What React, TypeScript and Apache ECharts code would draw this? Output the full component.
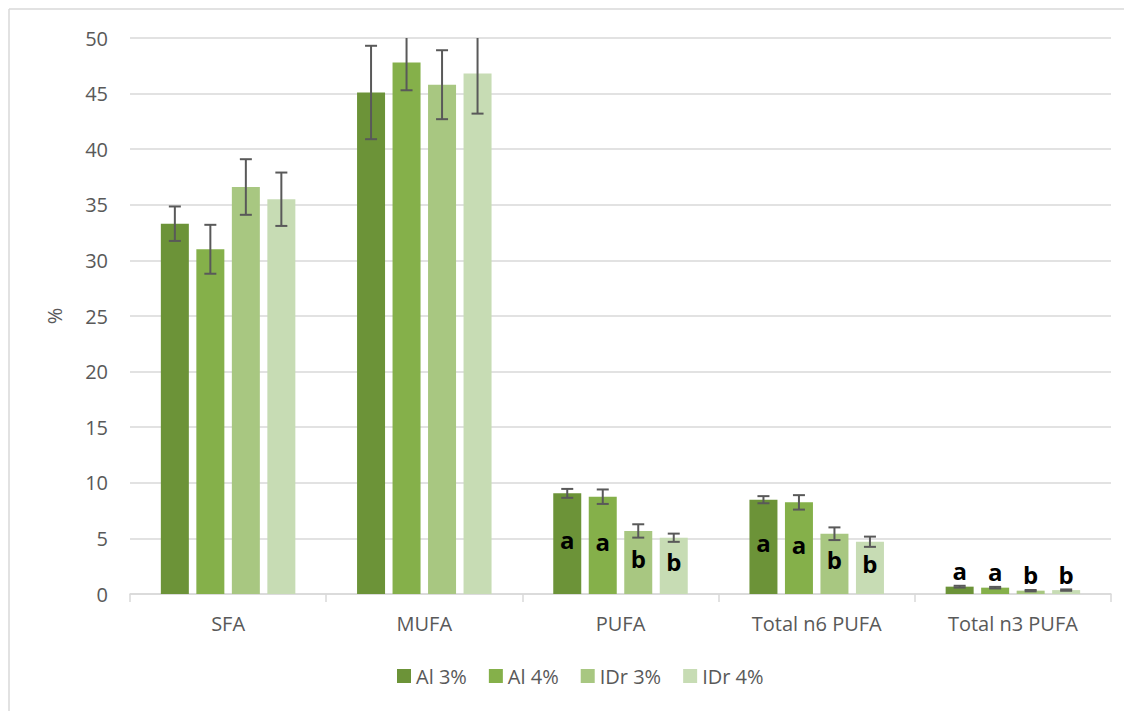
import React, { useEffect, useRef } from "react";
import * as echarts from "echarts";

const categories = ["SFA", "MUFA", "PUFA", "Total n6 PUFA", "Total n3 PUFA"];
const seriesNames = ["Al 3%", "Al 4%", "IDr 3%", "IDr 4%"];
const yTicks = { min: 0, max: 50, interval: 5 };

const al3 = [33.3, 45.1, 9.05, 8.48, 0.66];
const al3Err = [1.55, 4.2, 0.4, 0.32, 0.08];
const al4 = [31.0, 47.8, 8.75, 8.24, 0.57];
const al4Err = [2.2, 2.5, 0.65, 0.65, 0.07];
const idr3 = [36.6, 45.8, 5.67, 5.42, 0.3];
const idr3Err = [2.5, 3.1, 0.6, 0.57, 0.06];
const idr4 = [35.5, 46.8, 5.06, 4.7, 0.35];
const idr4Err = [2.4, 3.6, 0.37, 0.46, 0.06];

const al3Letters = ["", "", "a", "a", "a"];
const al4Letters = ["", "", "a", "a", "a"];
const idr3Letters = ["", "", "b", "b", "b"];
const idr4Letters = ["", "", "b", "b", "b"];
const letterPositions = ["inside", "inside", "inside", "inside", "top"];

const colors = ["#6C9338", "#85B04A", "#A8C781", "#C7DCB4"];

const values = [al3, al4, idr3, idr4];
const errors = [al3Err, al4Err, idr3Err, idr4Err];
const letters = [al3Letters, al4Letters, idr3Letters, idr4Letters];

const BAR_W = 28;
const GAP = 7.5;

export default function App() {
  const ref = useRef<HTMLDivElement>(null);
  useEffect(() => {
    if (!ref.current) return;
    const chart = echarts.init(ref.current, undefined, { renderer: "svg" });
    const groupW = 4 * BAR_W + 3 * GAP;

    const barSeries = seriesNames.map((name, i) => ({
      type: "bar",
      name,
      barWidth: BAR_W,
      barGap: (GAP / BAR_W) * 100 + "%",
      itemStyle: { color: colors[i] },
      data: values[i].map((v, j) => ({
        value: v,
        label: {
          show: letters[i][j] !== "",
          formatter: letters[i][j],
          position: letterPositions[j],
          offset: letterPositions[j] === "inside" ? [0, -4] : [0, 0],
          color: "#000",
          fontWeight: "bold",
          fontSize: 24,
          fontFamily: "Open Sans",
          distance: 4,
        },
      })),
    }));

    const errSeries = seriesNames.map((name, i) => ({
      type: "custom",
      name: name + " err",
      clip: true,
      z: 10,
      data: values[i].map((v, j) => [j, v - errors[i][j], v + errors[i][j]]),
      encode: { x: 0, y: [1, 2] },
      renderItem: (params: any, api: any) => {
        const cat = api.value(0);
        const lo = api.coord([cat, api.value(1)]);
        const hi = api.coord([cat, api.value(2)]);
        const x = lo[0] - groupW / 2 + i * (BAR_W + GAP) + BAR_W / 2;
        const style = { stroke: "#595959", lineWidth: 2 };
        const cap = 6;
        return {
          type: "group",
          children: [
            { type: "line", shape: { x1: x, y1: lo[1], x2: x, y2: hi[1] }, style },
            { type: "line", shape: { x1: x - cap, y1: lo[1], x2: x + cap, y2: lo[1] }, style },
            { type: "line", shape: { x1: x - cap, y1: hi[1], x2: x + cap, y2: hi[1] }, style },
          ],
        };
      },
    }));

    chart.setOption({
      animation: false,
      textStyle: { fontFamily: "Open Sans" },
      grid: { left: 122, right: 21, top: 30, bottom: 117 },
      legend: {
        data: seriesNames,
        bottom: 20,
        left: 384,
        icon: "rect",
        itemWidth: 14,
        itemHeight: 14,
        itemGap: 22,
        textStyle: { color: "#595959", fontSize: 20, fontFamily: "Open Sans" },
      },
      xAxis: {
        type: "category",
        data: categories,
        axisLine: { lineStyle: { color: "#d9d9d9", width: 1.5 } },
        axisTick: { show: true, length: 8, lineStyle: { color: "#d9d9d9", width: 1.5 } },
        axisLabel: { color: "#595959", fontSize: 20, margin: 19 },
      },
      yAxis: {
        type: "value",
        min: yTicks.min,
        max: yTicks.max,
        interval: yTicks.interval,
        name: "%",
        nameLocation: "middle",
        nameGap: 66,
        nameTextStyle: { color: "#595959", fontSize: 20 },
        axisLine: { show: false },
        axisTick: { show: false },
        axisLabel: { color: "#595959", fontSize: 20, margin: 22 },
        splitLine: { lineStyle: { color: "#d9d9d9", width: 1.5 } },
      },
      graphic: [
        { type: "line", shape: { x1: 1, y1: 1, x2: 1, y2: 703 }, style: { stroke: "#d9d9d9", lineWidth: 1.5 } },
        { type: "line", shape: { x1: 1, y1: 1, x2: 1124, y2: 1 }, style: { stroke: "#d9d9d9", lineWidth: 1.5 } },
      ],
      series: [...barSeries, ...errSeries],
    });
    return () => chart.dispose();
  }, []);
  return <div ref={ref} style={{ width: 1124, height: 703 }} />;
}
